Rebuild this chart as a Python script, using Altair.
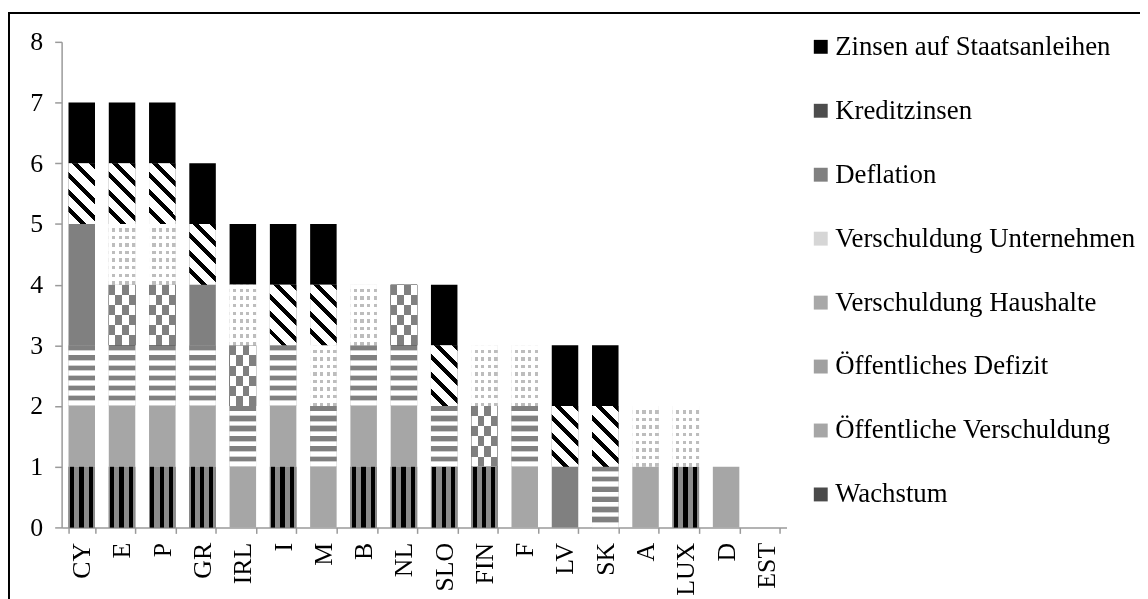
import altair as alt
import pandas as pd

# ---------------- data ----------------
countries = ["CY", "E", "P", "GR", "IRL", "I", "M", "B", "NL", "SLO",
             "FIN", "F", "LV", "SK", "A", "LUX", "D", "EST"]

wachstum         = [1, 1, 1, 1, 0, 1, 0, 1, 1, 1, 1, 0, 0, 0, 0, 1, 0, 0]
oeff_verschuld   = [1, 1, 1, 1, 1, 1, 1, 1, 1, 0, 0, 1, 0, 0, 1, 0, 1, 0]
oeff_defizit     = [1, 1, 1, 1, 1, 1, 1, 1, 1, 1, 0, 1, 0, 1, 0, 0, 0, 0]
versch_haushalte = [0, 1, 1, 0, 1, 0, 0, 0, 1, 0, 1, 0, 0, 0, 0, 0, 0, 0]
versch_untern    = [0, 1, 1, 0, 1, 0, 1, 1, 0, 0, 1, 1, 0, 0, 1, 1, 0, 0]
deflation        = [2, 0, 0, 1, 0, 0, 0, 0, 0, 0, 0, 0, 1, 0, 0, 0, 0, 0]
kreditzinsen     = [1, 1, 1, 1, 0, 1, 1, 0, 0, 1, 0, 0, 1, 1, 0, 0, 0, 0]
zinsen_staat     = [1, 1, 1, 1, 1, 1, 1, 0, 0, 1, 0, 0, 1, 1, 0, 0, 0, 0]

# stacking order, bottom to top
series_names = ["Wachstum", "Öffentliche Verschuldung", "Öffentliches Defizit",
                "Verschuldung Haushalte", "Verschuldung Unternehmen", "Deflation",
                "Kreditzinsen", "Zinsen auf Staatsanleihen"]
series_values = [wachstum, oeff_verschuld, oeff_defizit, versch_haushalte,
                 versch_untern, deflation, kreditzinsen, zinsen_staat]

rows = []
for idx, (name, vals) in enumerate(zip(series_names, series_values)):
    for c, v in zip(countries, vals):
        rows.append({"country": c, "series": name, "value": v, "idx": idx})
df = pd.DataFrame(rows)

# legend (top to bottom) and approximate average colours of the patterns
legend_order = list(reversed(series_names))
legend_colors = ["#000000", "#4d4d4d", "#808080", "#d6d6d6",
                 "#a8a8a8", "#a0a0a0", "#a6a6a6", "#4a4a4a"]

# ---------------- pattern fills (gradients) ----------------
def bands(pattern, n):
    stops = []
    pos = 0.0
    for i in range(n):
        for color, frac in pattern:
            end = pos + frac / n
            stops.append({"offset": round(min(pos, 1.0), 5), "color": color})
            stops.append({"offset": round(min(end, 1.0), 5), "color": color})
            pos = end
    return stops

def lin(stops, x1, y1, x2, y2):
    return {"gradient": "linear", "x1": x1, "y1": y1, "x2": x2, "y2": y2, "stops": stops}

G = "#8c8c8c"
grad_wachstum = lin(bands([(G, 0.05), ("#000000", 0.15), (G, 0.2), ("#000000", 0.17),
                           (G, 0.19), ("#000000", 0.15), (G, 0.09)], 1), 0, 0, 1, 0)
grad_defizit = lin(bands([("#808080", 0.45), ("#d0d0d0", 0.08), ("#ffffff", 0.39),
                          ("#d0d0d0", 0.08)], 6), 0, 0, 0, 1)
grad_hh_rows = lin(bands([("#7f7f7f", 0.5), ("#000000", 0.5)], 3), 0, 0, 0, 1)
grad_hh_cols = lin(bands([("#000000", 0.5), ("#7f7f7f", 0.5)], 2), 0, 0, 1, 0)
grad_un_rows = lin(bands([("#ffffff", 0.55), ("#bdbdbd", 0.45)], 8), 0, 0, 0, 1)
grad_un_cols = lin(bands([("#ffffff", 0.5), ("#bdbdbd", 0.5)], 4), 0, 0, 1, 0)
grad_kredit = lin(bands([("#ffffff", 0.66), ("#000000", 0.34)], 5), 0, 1, 0.527, -0.207)

# ---------------- chart ----------------
FONT = "Liberation Serif"

x_enc = alt.X("country:N",
              scale=alt.Scale(domain=countries, paddingInner=0.342, paddingOuter=0.171),
              axis=alt.Axis(title=None, labelAngle=270, labelFont=FONT, labelFontSize=26,
                            labelColor="black", labelPadding=9, tickSize=6,
                            tickBand="extent", domainColor="#9a9a9a", tickColor="#9a9a9a",
                            domainWidth=1.5, tickWidth=1.5, grid=False))
y_enc = alt.Y("y0:Q",
              scale=alt.Scale(domain=[0, 8], nice=False),
              axis=alt.Axis(title=None, values=list(range(9)), labelFont=FONT,
                            labelFontSize=26, labelColor="black", labelPadding=12,
                            tickSize=7, domainColor="#9a9a9a", tickColor="#9a9a9a",
                            domainWidth=1.5, tickWidth=1.5, grid=False))
y2_enc = alt.Y2("y1:Q")

base = alt.Chart(df).transform_filter("datum.value > 0").transform_stack(
    stack="value", groupby=["country"], sort=[alt.SortField("idx", order="ascending")],
    as_=["y0", "y1"])

solid = base.mark_bar().encode(
    x=x_enc, y=y_enc, y2=y2_enc,
    color=alt.Color("series:N",
                    scale=alt.Scale(domain=legend_order, range=legend_colors),
                    legend=alt.Legend(title=None, orient="none", legendX=751, legendY=-8.5,
                                      symbolType="square", symbolSize=196,
                                      symbolStrokeWidth=0, labelFont=FONT,
                                      labelFontSize=27, labelColor="black",
                                      rowPadding=36.4, labelOffset=1, labelLimit=600,
                                      padding=0)))

def pat(name, fill, blend=None):
    kw = {"color": fill}
    if blend:
        kw["blend"] = blend
    return base.transform_filter(alt.datum.series == name).mark_bar(**kw).encode(
        x=x_enc, y=y_enc, y2=y2_enc)

layers = [
    solid,
    pat("Wachstum", grad_wachstum),
    pat("Öffentliches Defizit", grad_defizit),
    pat("Verschuldung Haushalte", grad_hh_rows),
    pat("Verschuldung Haushalte", grad_hh_cols, "difference"),
    pat("Verschuldung Haushalte", "#ffffff", "difference"),
    pat("Verschuldung Unternehmen", grad_un_rows),
    pat("Verschuldung Unternehmen", grad_un_cols, "lighten"),
    pat("Kreditzinsen", grad_kredit),
]

frame = alt.Chart(alt.Data(values=[{"k": 1}])).mark_rect(
    filled=False, stroke="black", strokeWidth=2).encode(
    x=alt.value(-53), x2=alt.value(1300), y=alt.value(-29), y2=alt.value(900))

chart = alt.layer(*layers, frame).properties(
    width=730, height=489,
    padding={"left": 54, "top": 32, "right": 356, "bottom": 70},
    autosize=alt.AutoSizeParams(type="none"),
    background="white",
).configure_view(stroke=None)

chart.save("out.html", embed_options={"renderer": "svg", "actions": False})
